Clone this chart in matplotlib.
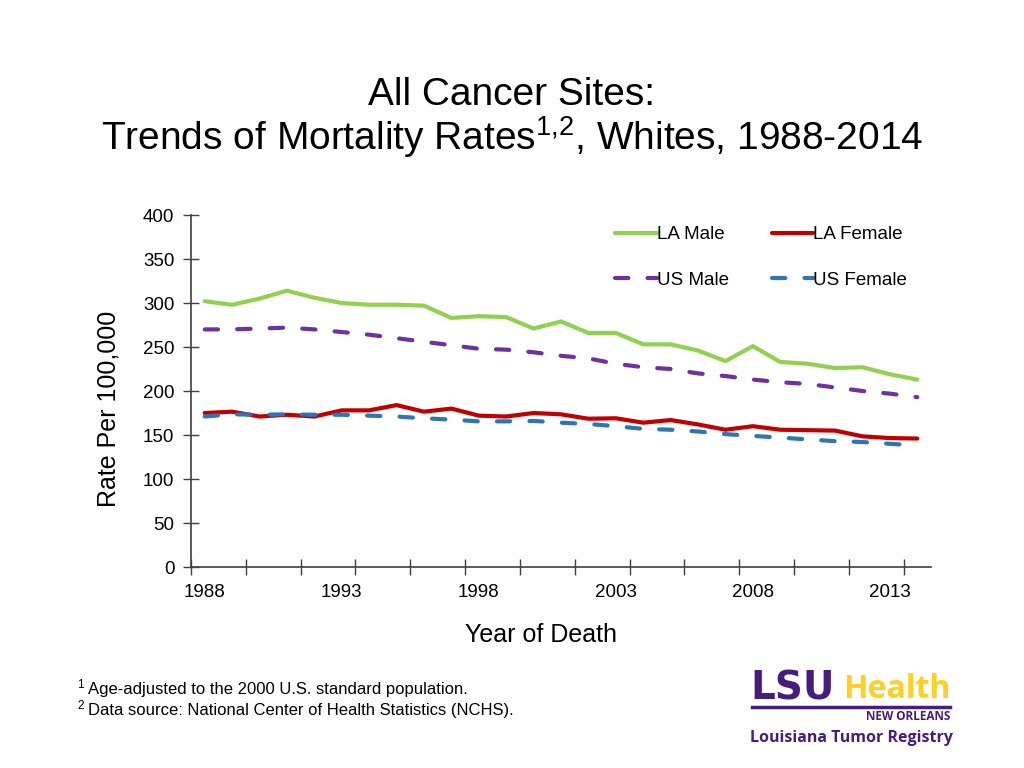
import numpy as np
import matplotlib
matplotlib.use("Agg")
import matplotlib.pyplot as plt
from matplotlib.ticker import FixedLocator, NullFormatter

plt.rcParams['font.family'] = ['Liberation Sans', 'DejaVu Sans']
plt.rcParams['mathtext.fontset'] = 'custom'
plt.rcParams['mathtext.rm'] = 'Liberation Sans'

# dati
anni = list(range(1988, 2015))
la_maschi = [302, 298, 305, 314, 306, 300, 298, 298, 297, 283, 285, 284, 271, 279,
             266, 266, 253, 253, 246, 234, 251, 233, 231, 226, 227, 219, 213]
la_femmine = [175, 176.5, 171, 173, 171, 178, 178, 184, 176.5, 180, 172, 171, 175, 173.5,
              168.5, 169, 164, 167, 162, 156, 160, 156, 155.5, 155, 148.5, 146.5, 146]
us_maschi = [270, 270, 271, 272, 270, 267, 264, 260, 256, 252, 248, 247, 244, 240,
             237, 231, 227, 225, 220, 217, 213, 210, 208, 204, 200, 197, 193]
us_femmine = [171, 173.5, 173, 173.5, 173, 173, 172, 171, 169, 167.5, 165.5, 165.5, 166, 164,
              162.5, 160, 157, 156, 154, 151, 149, 147, 145, 143, 142, 140, 138]

note = ['Age-adjusted to the 2000 U.S. standard population.',
        'Data source: National Center of Health Statistics (NCHS).']

x = np.arange(len(anni))

fig = plt.figure(figsize=(10.24, 7.68), dpi=100)
ax = fig.add_axes([191/1024, 1 - 567/768, 740/1024, 352/768])

lw = 3.0
l1, = ax.plot(x, la_maschi, color='#92D050', lw=lw, label='LA Male', solid_capstyle='round')
l2, = ax.plot(x, la_femmine, color='#C00000', lw=lw, label='LA Female', solid_capstyle='round')
l3, = ax.plot(x, us_maschi, color='#7030A0', lw=lw, label='US Male',
              linestyle=(0, (3.2, 4.6)), dash_capstyle='round')
l4, = ax.plot(x, us_femmine, color='#2E75B6', lw=lw, label='US Female',
              linestyle=(0, (3.2, 4.6)), dash_capstyle='round')

ax.set_xlim(-0.5, len(anni) - 0.5)
ax.set_ylim(0, 400)
ax.set_yticks(range(0, 401, 50))

# etichette ogni 5 anni, tacche ogni 2 categorie
ax.set_xticks(x[::5])
ax.set_xticklabels([str(a) for a in anni[::5]])
ax.xaxis.set_minor_locator(FixedLocator(np.arange(-0.5, len(anni), 2)))
ax.xaxis.set_minor_formatter(NullFormatter())
ax.tick_params(axis='x', which='major', length=0, pad=12, labelsize=13.5)
ax.tick_params(axis='x', which='minor', direction='inout', length=12, width=1, color='#404040')
ax.tick_params(axis='y', direction='inout', length=12, width=1, color='#404040',
               labelsize=13.5, pad=6)

for s in ['top', 'right']:
    ax.spines[s].set_visible(False)
for s in ['left', 'bottom']:
    ax.spines[s].set_color('#404040')
    ax.spines[s].set_linewidth(1.2)

ax.set_ylabel('Rate Per 100,000', fontsize=18)
ax.yaxis.set_label_coords(-0.095, 0.45)
ax.set_xlabel('Year of Death', fontsize=18)
ax.xaxis.set_label_coords(0.473, -0.16)

# ordine come nel riferimento: riga 1 LA, riga 2 US
ax.legend([l1, l3, l2, l4], ['LA Male', 'US Male', 'LA Female', 'US Female'],
          ncol=2, frameon=False, loc='upper right', bbox_to_anchor=(0.985, 1.005),
          fontsize=13.5, handlelength=2.2, handletextpad=0.0, columnspacing=2.3,
          labelspacing=1.5, borderaxespad=0.3)

# titolo
fig.text(0.5, 1 - 95/768, 'All Cancer Sites:', ha='center', va='center', fontsize=28)
fig.text(0.5, 1 - 137/768, r'Trends of Mortality Rates$^{\mathrm{1{,}2}}$, Whites, 1988-2014',
         ha='center', va='center', fontsize=28)

# note
for i, riga in enumerate(note):
    yb = 1 - (694 + 21 * i) / 768
    fig.text(77/1024, yb + 6/768, str(i + 1), ha='left', va='baseline', fontsize=8.5)
    fig.text(88/1024, yb, riga, ha='left', va='baseline', fontsize=12)

# logo
viola = '#461D7C'
oro = '#FDD023'
fig.text(750/1024, 1 - 689/768, 'LSU', color=viola, fontsize=28, fontweight='heavy',
         ha='left', va='center', family=['DejaVu Sans'])
fig.text(950/1024, 1 - 689/768, 'Health', color=oro, fontsize=23, fontweight='bold',
         ha='right', va='center', family=['Open Sans', 'DejaVu Sans'])
fig.add_artist(plt.Line2D([752/1024, 950/1024], [1 - 707/768, 1 - 707/768],
                          color=viola, lw=2.5, transform=fig.transFigure))
fig.text(950/1024, 1 - 716/768, 'NEW ORLEANS', color=viola, fontsize=8.5, fontweight='bold',
         ha='right', va='center', family=['Open Sans', 'DejaVu Sans'])
fig.text(851/1024, 1 - 738/768, 'Louisiana Tumor Registry', color=viola, fontsize=11.5,
         fontweight='bold', ha='center', va='center', family=['Open Sans', 'DejaVu Sans'])

fig.savefig('out.png', dpi=100)
